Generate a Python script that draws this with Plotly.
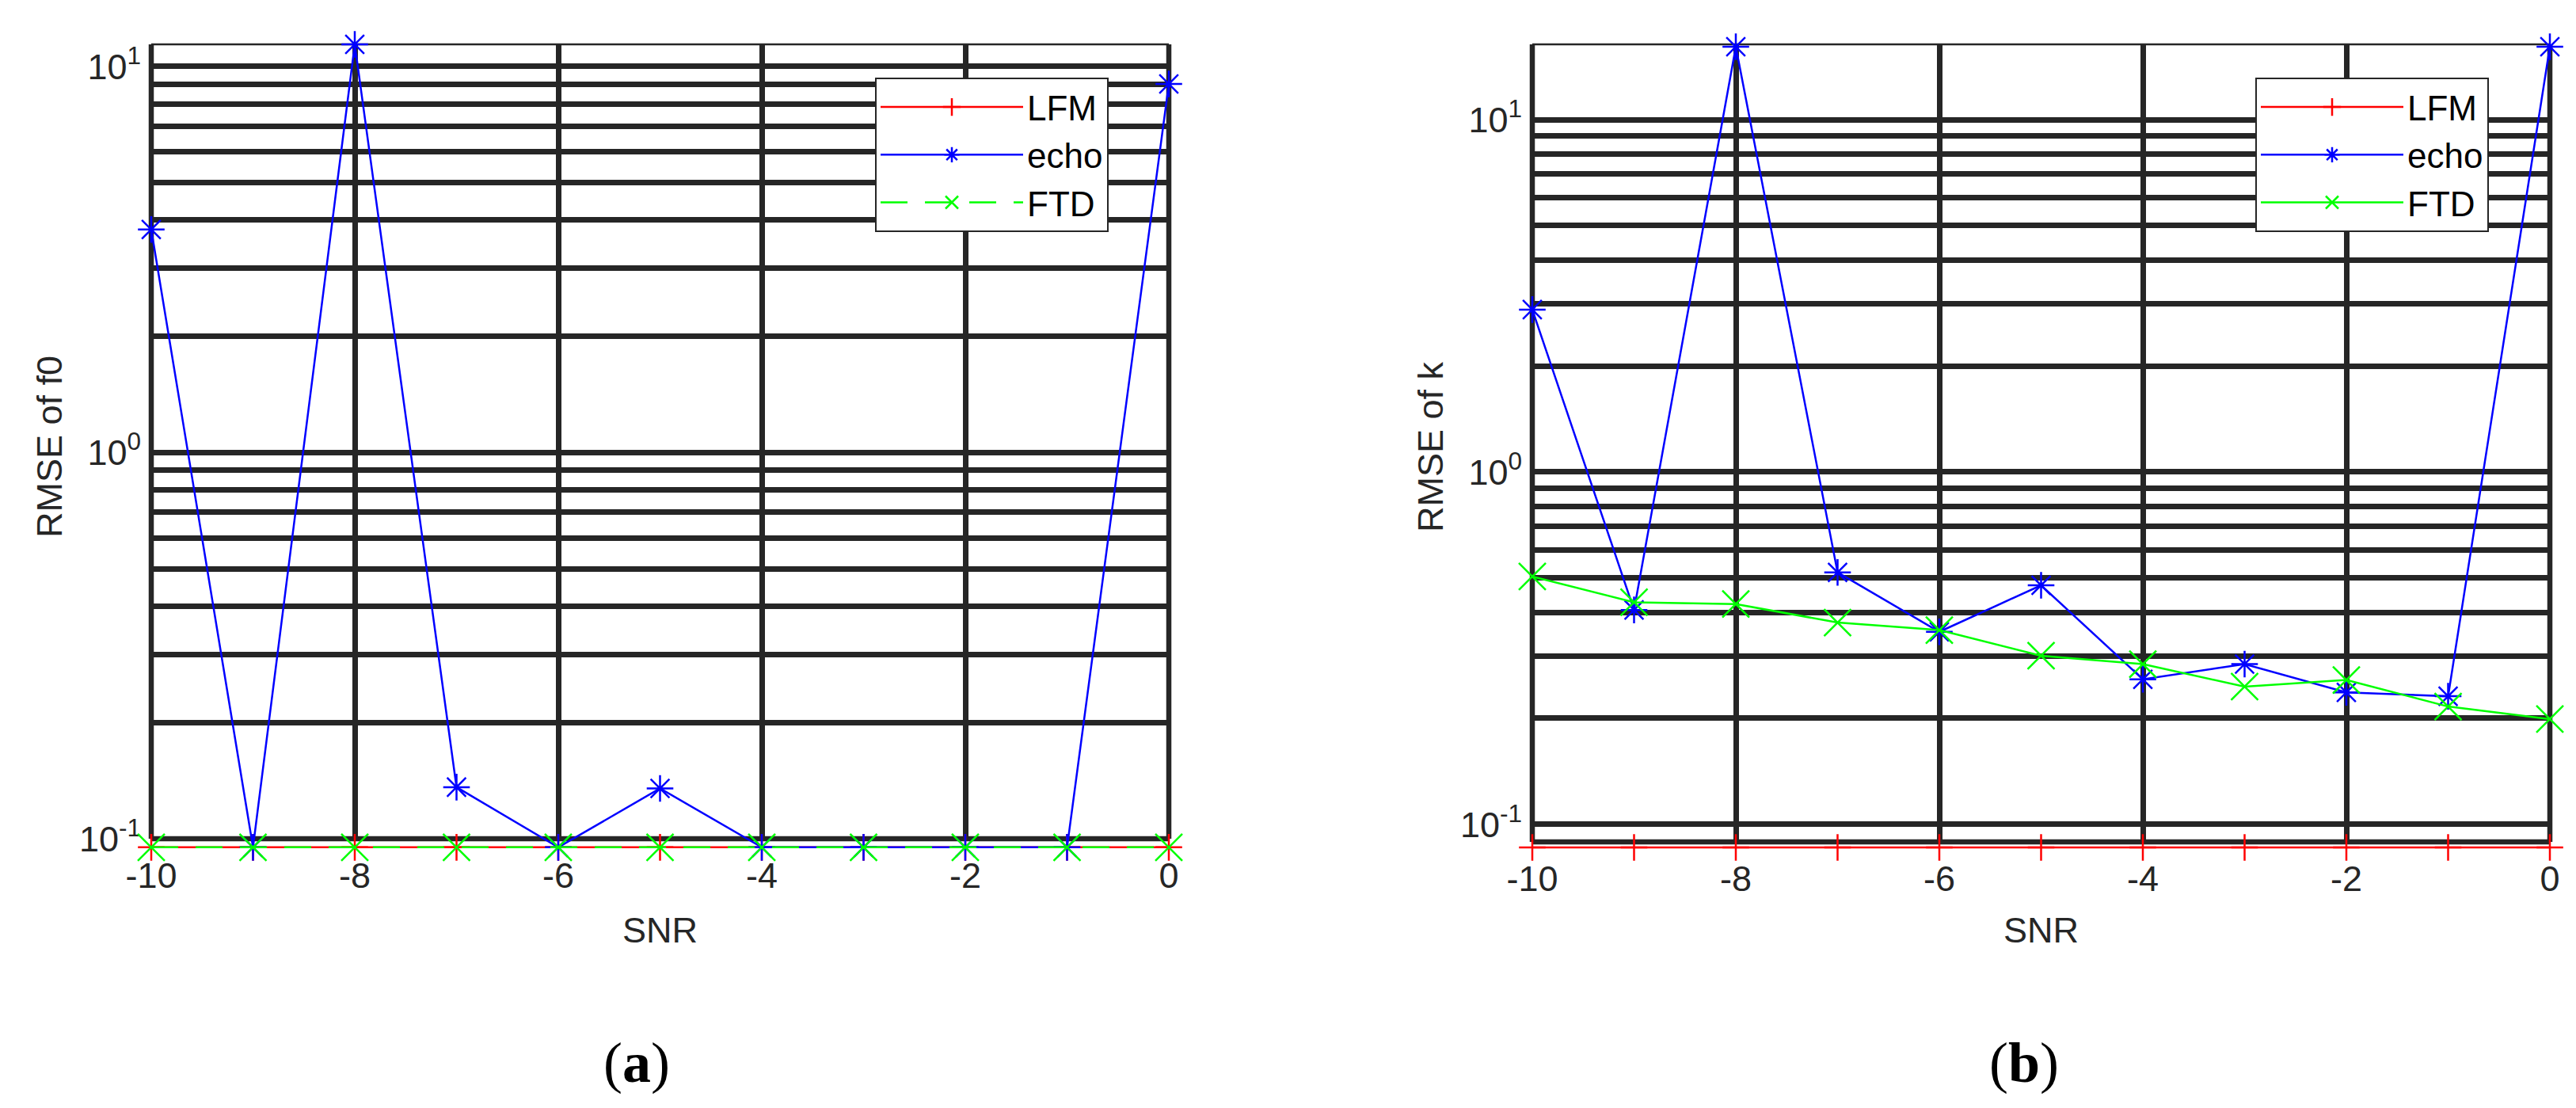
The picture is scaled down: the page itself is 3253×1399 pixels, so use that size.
import math
import plotly.graph_objects as go

# ---------------- data ----------------
snr = [-10, -9, -8, -7, -6, -5, -4, -3, -2, -1, 0]
x_ticks = [-10, -8, -6, -4, -2, 0]
x_tick_text = ["-10", "-8", "-6", "-4", "-2", "0"]
y_major = [0.1, 1, 10]
y_major_text = ["10<sup>-1</sup>", "10<sup>0</sup>", "10<sup>1</sup>"]
y_minor = [0.2, 0.3, 0.4, 0.5, 0.6, 0.7, 0.8, 0.9, 2, 3, 4, 5, 6, 7, 8, 9]

# panel (a): RMSE of f0
a_lfm = [0.095, 0.095, 0.095, 0.095, 0.095, 0.095, 0.095, 0.095, 0.095, 0.095, 0.095]
a_echo = [3.78, 0.095, 11.4, 0.136, 0.095, 0.135, 0.095, 0.095, 0.095, 0.095, 9.0]
a_ftd = [0.095, 0.095, 0.095, 0.095, 0.095, 0.095, 0.095, 0.095, 0.095, 0.095, 0.095]

# panel (b): RMSE of k
b_lfm = [0.086, 0.086, 0.086, 0.086, 0.086, 0.086, 0.086, 0.086, 0.086, 0.086, 0.086]
b_echo = [2.89, 0.406, 16.1, 0.519, 0.352, 0.477, 0.258, 0.285, 0.237, 0.231, 16.1]
b_ftd = [0.505, 0.427, 0.422, 0.374, 0.356, 0.301, 0.285, 0.246, 0.257, 0.216, 0.199]

series_names = ["LFM", "echo", "FTD"]
y_titles = ["RMSE of f0", "RMSE of k"]
panel_labels = ["(<b>a</b>)", "(<b>b</b>)"]

# ---------------- styling / geometry ----------------
W, H = 3253, 1399
SANS = "Liberation Sans, Arial, Helvetica, sans-serif"
SERIF = "Liberation Serif, Times New Roman, serif"
GRID = "#262626"
TXT = "#262626"
RED, BLUE, GREEN = "#FF0000", "#0000FF", "#00FF00"
GW = 6.5   # grid line width
FS = 45    # axis font size

panels = [
    dict(left=183, right=1468, top=48, bottom=1051, yrange=(0.1, 11.4),
         data=(a_lfm, a_echo, a_ftd), ftd_dash="34px,22px",
         legend_x=1097, title_x=54, label_x=796),
    dict(left=1927, right=3212, top=48, bottom=1055, yrange=(0.0892, 16.35),
         data=(b_lfm, b_echo, b_ftd), ftd_dash="solid",
         legend_x=2840, title_x=1798, label_x=2548),
]
EXT = 30  # px the data area reaches below the axes box

fig = go.Figure()
layout = dict(
    width=W, height=H, autosize=False,
    margin=dict(l=0, r=0, t=0, b=0, pad=0, autoexpand=False),
    paper_bgcolor="white", plot_bgcolor="rgba(0,0,0,0)",
    font=dict(family=SANS, size=FS, color=TXT),
    shapes=[], annotations=[],
)

for i, p in enumerate(panels):
    kg = 2 * i + 1  # grid axes
    kd = 2 * i + 2  # data axes
    sg = "" if kg == 1 else str(kg)
    sd = str(kd)
    lo, hi = math.log10(p["yrange"][0]), math.log10(p["yrange"][1])
    ppd = (p["bottom"] - p["top"]) / (hi - lo)
    xdom = [p["left"] / W, p["right"] / W]
    ydom = [1 - p["bottom"] / H, 1 - p["top"] / H]
    ydom_d = [1 - (p["bottom"] + EXT) / H, 1 - p["top"] / H]

    layout["xaxis" + sg] = dict(
        domain=xdom, range=[-10, 0], anchor="y" + sg, automargin=False,
        tickmode="array", tickvals=x_ticks, ticktext=x_tick_text, ticks="",
        showgrid=True, gridcolor=GRID, gridwidth=GW,
        showline=False, zeroline=False,
        tickfont=dict(family=SANS, size=FS, color=TXT),
        ticklabelstandoff=16,
    )
    layout["yaxis" + sg] = dict(
        type="log", domain=ydom, range=[lo, hi], anchor="x" + sg,
        automargin=False,
        tickmode="array", tickvals=y_major, ticktext=y_major_text, ticks="",
        showgrid=True, gridcolor=GRID, gridwidth=GW,
        minor=dict(tickmode="array", tickvals=y_minor, showgrid=True,
                   gridcolor=GRID, gridwidth=GW, ticks=""),
        showline=False, zeroline=False,
        tickfont=dict(family=SANS, size=FS, color=TXT),
        ticklabelstandoff=12,
    )
    layout["xaxis" + sd] = dict(domain=xdom, range=[-10, 0], anchor="y" + sd,
                                automargin=False, showticklabels=False,
                                visible=False, showgrid=False, zeroline=False)
    layout["yaxis" + sd] = dict(type="log", domain=ydom_d,
                                range=[lo - EXT / ppd, hi], anchor="x" + sd,
                                automargin=False, showticklabels=False,
                                visible=False, showgrid=False, zeroline=False)

    # empty trace so the grid subplot (axes, grid, tick labels) is created
    fig.add_trace(go.Scatter(x=[], y=[], xaxis="x" + sg, yaxis="y" + sg,
                             showlegend=False, hoverinfo="skip"))

    # axes box
    xr, yr = "x" + sg + " domain", "y" + sg + " domain"
    for (x0, y0, x1, y1, w) in [(0, 0, 0, 1, GW), (1, 0, 1, 1, GW),
                                (0, 0, 1, 0, GW), (0, 1, 1, 1, 2.5)]:
        layout["shapes"].append(dict(type="line", xref=xr, yref=yr,
                                     x0=x0, y0=y0, x1=x1, y1=y1,
                                     line=dict(color=GRID, width=w),
                                     layer="below"))

    legname = "legend" if i == 0 else "legend2"
    layout[legname] = dict(
        x=p["legend_x"] / W, y=1 - 90 / H, xanchor="left", yanchor="top",
        bgcolor="white", bordercolor=GRID, borderwidth=2,
        font=dict(family=SANS, size=44, color="black"),
        itemwidth=180, tracegroupgap=0,
    )

    lfm, echo, ftd = p["data"]
    styles = [
        (lfm, RED, "cross-thin", 24, "solid"),
        (echo, BLUE, "asterisk", 28, "solid"),
        (ftd, GREEN, "x-thin", 34, p["ftd_dash"]),
    ]
    for name, (vals, col, sym, size, dash) in zip(series_names, styles):
        fig.add_trace(go.Scatter(
            x=snr, y=vals, name=name, mode="lines+markers",
            xaxis="x" + sd, yaxis="y" + sd, legend=legname,
            line=dict(color=col, width=2.5, dash=dash),
            marker=dict(symbol=sym, size=size, color=col,
                        line=dict(color=col, width=2.5)),
            cliponaxis=False,
        ))

    # axis titles and panel label
    cx = (p["left"] + p["right"]) / 2
    layout["annotations"].append(dict(
        text=y_titles[i], xref="paper", yref="paper",
        x=p["title_x"] / W, y=1 - 556 / H, xanchor="center", yanchor="middle",
        textangle=-90, showarrow=False,
        font=dict(family=SANS, size=FS, color=TXT)))
    layout["annotations"].append(dict(
        text="SNR", xref="paper", yref="paper",
        x=cx / W, y=1 - 1166 / H, xanchor="center", yanchor="middle",
        showarrow=False, font=dict(family=SANS, size=FS, color=TXT)))
    layout["annotations"].append(dict(
        text=panel_labels[i], xref="paper", yref="paper",
        x=p["label_x"] / W, y=1 - 1334 / H, xanchor="center", yanchor="middle",
        showarrow=False, font=dict(family=SERIF, size=72, color="black")))

fig.update_layout(**layout)
fig.write_html("out.html")
